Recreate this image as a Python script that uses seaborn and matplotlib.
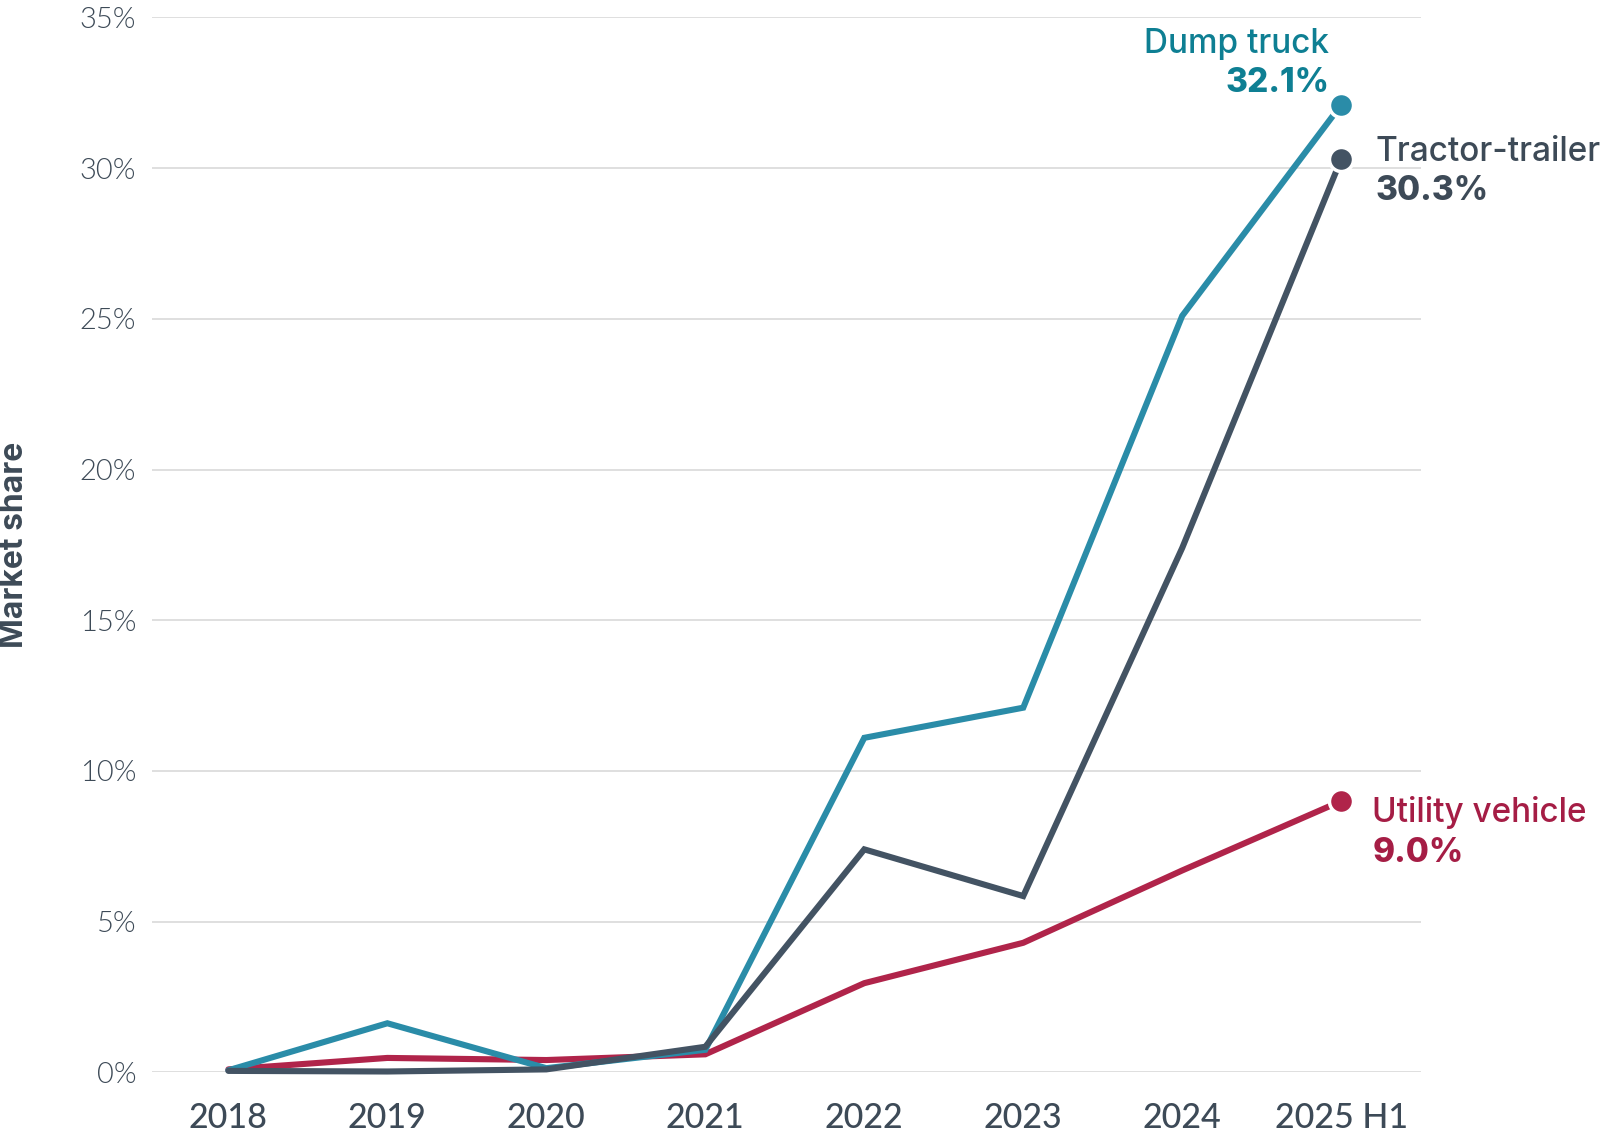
import matplotlib
matplotlib.use("Agg")
import matplotlib.pyplot as plt
import seaborn as sns
import pandas as pd
import numpy as np

years = ["2018", "2019", "2020", "2021", "2022", "2023", "2024", "2025 H1"]
dump_truck = [0.07, 1.63, 0.14, 0.75, 11.1, 12.1, 25.1, 32.1]
tractor_trailer = [0.05, 0.03, 0.1, 0.85, 7.4, 5.85, 17.4, 30.3]
utility_vehicle = [0.1, 0.48, 0.41, 0.6, 2.96, 4.3, 6.7, 9.0]
series_names = ["Utility vehicle", "Dump truck", "Tractor-trailer"]
y_ticks = [0, 5, 10, 15, 20, 25, 30, 35]

line_colors = {"Dump truck": "#2a8ca8", "Tractor-trailer": "#435363", "Utility vehicle": "#b0244a"}
text_colors = {"Dump truck": "#0e7f93", "Tractor-trailer": "#3d4a57", "Utility vehicle": "#a51d45"}

rows = []
for name, vals in zip(series_names, [utility_vehicle, dump_truck, tractor_trailer]):
    for i, v in enumerate(vals):
        rows.append({"x": i, "year": years[i], "share": v, "series": name})
df = pd.DataFrame(rows)

sns.set_theme(style="white")
plt.rcParams["font.family"] = ["Lato", "DejaVu Sans"]
ann_font = ["Inter", "Lato", "DejaVu Sans"]

fig = plt.figure(figsize=(16.06, 11.40), dpi=100)
ax = fig.add_axes([0.0944, 0.0593, 0.7902, 0.9254])

for name in series_names:
    sub = df[df["series"] == name]
    sns.lineplot(data=sub, x="x", y="share", color=line_colors[name], linewidth=4.4,
                 ax=ax, legend=False, clip_on=False, solid_capstyle="round",
                 solid_joinstyle="miter")

last = df[df["x"] == len(years) - 1]
for name in series_names:
    sub = last[last["series"] == name]
    sns.scatterplot(data=sub, x="x", y="share", color=line_colors[name], s=300,
                    edgecolor="white", linewidth=2.5, ax=ax, legend=False, clip_on=False, zorder=5)

ax.set_xlim(-0.483, 7.5)
ax.set_ylim(0, 35)
ax.set_yticks(y_ticks)
ax.set_yticklabels([f"{t}%" for t in y_ticks])
ax.set_xticks(range(len(years)))
ax.set_xticklabels(years)
ax.grid(axis="y", color="#d9d9d9", linewidth=1.2)
ax.grid(axis="x", visible=False)
ax.set_axisbelow(True)
for s in ax.spines.values():
    s.set_visible(False)
ax.tick_params(axis="y", length=0, pad=11, labelsize=21, labelcolor="#3d4a57")
ax.tick_params(axis="x", length=0, pad=21, labelsize=24.5, labelcolor="#3d4a57")
for lab in ax.get_yticklabels():
    lab.set_fontweight(300)
for lab in ax.get_xticklabels():
    lab.set_fontweight("medium")
ax.set_xlabel("")
ax.set_ylabel("Market share", fontsize=23, fontweight="bold", color="#3d4a57", family=ann_font)
ax.yaxis.set_label_coords(-0.0955, 0.5)

ix = len(years) - 1
common = dict(textcoords="offset pixels", va="baseline", fontsize=24, family=ann_font, annotation_clip=False)
# Dump truck
ax.annotate("Dump truck", (ix, dump_truck[-1]), xytext=(-12, 52), ha="right", fontweight="medium",
            color=text_colors["Dump truck"], **common)
ax.annotate(f"{dump_truck[-1]:.1f}%", (ix, dump_truck[-1]), xytext=(-12, 13), ha="right", fontweight="heavy",
            color=text_colors["Dump truck"], **common)
# Tractor-trailer
ax.annotate("Tractor-trailer", (ix, tractor_trailer[-1]), xytext=(34, -2), ha="left", fontweight="medium",
            color=text_colors["Tractor-trailer"], **common)
ax.annotate(f"{tractor_trailer[-1]:.1f}%", (ix, tractor_trailer[-1]), xytext=(34, -41), ha="left",
            fontweight="heavy", color=text_colors["Tractor-trailer"], **common)
# Utility vehicle
ax.annotate("Utility vehicle", (ix, utility_vehicle[-1]), xytext=(31, -21), ha="left", fontweight="medium",
            color=text_colors["Utility vehicle"], **common)
ax.annotate(f"{utility_vehicle[-1]:.1f}%", (ix, utility_vehicle[-1]), xytext=(31, -61), ha="left",
            fontweight="heavy", color=text_colors["Utility vehicle"], **common)

fig.savefig("out.png", dpi=100)
